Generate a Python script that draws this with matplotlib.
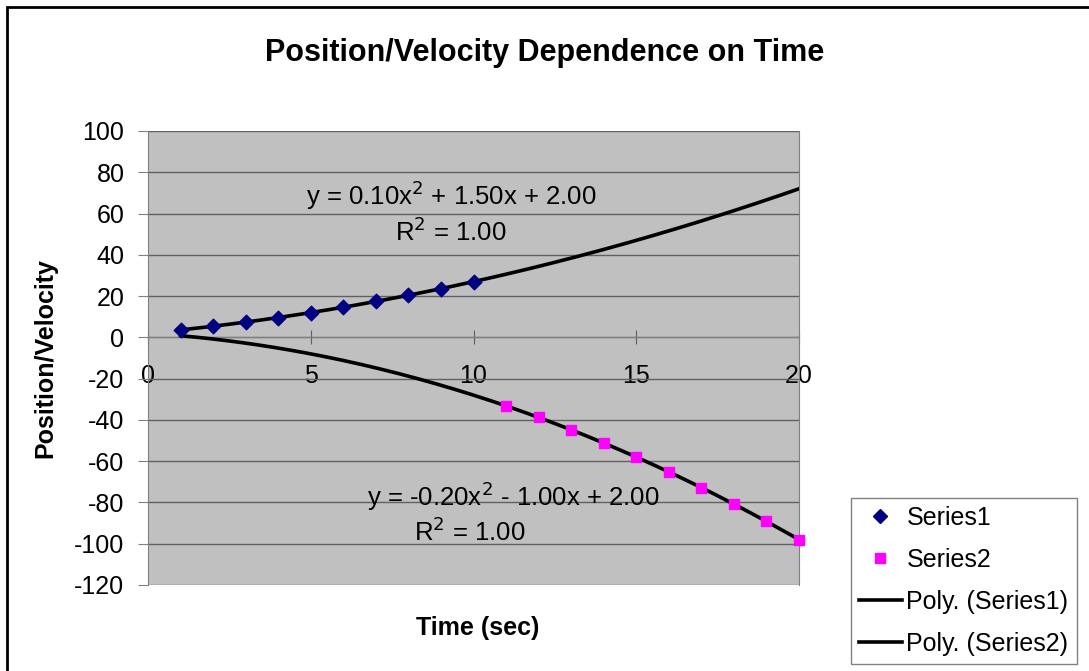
import numpy as np
import matplotlib.pyplot as plt
from matplotlib.patches import Rectangle
from matplotlib.lines import Line2D

# dane
czas1 = [1, 2, 3, 4, 5, 6, 7, 8, 9, 10]
seria1 = [3.6, 5.4, 7.4, 9.6, 12.0, 14.6, 17.4, 20.4, 23.6, 27.0]
czas2 = [11, 12, 13, 14, 15, 16, 17, 18, 19, 20]
seria2 = [-33.2, -38.8, -44.8, -51.2, -58.0, -65.2, -72.8, -80.8, -89.2, -98.0]
y_ticks = [-120, -100, -80, -60, -40, -20, 0, 20, 40, 60, 80, 100]
x_ticks = [0, 5, 10, 15, 20]

plt.rcParams['font.family'] = ['Liberation Sans', 'DejaVu Sans']
plt.rcParams['axes.unicode_minus'] = False

W, H = 1089, 671
fig = plt.figure(figsize=(W / 100, H / 100), dpi=100)


def px(x, y):
    # piksele od lewego gornego rogu -> ulamki figury
    return x / W, 1 - y / H


# ramka wokol calego wykresu
fig.patches.append(Rectangle(px(7, 700), 1.2, (700 - 7) / H, transform=fig.transFigure,
                             fill=False, edgecolor='black', linewidth=2))

# obszar wykresu
left, right, top, bottom = 148, 799, 131, 585
ax = fig.add_axes([left / W, 1 - bottom / H, (right - left) / W, (bottom - top) / H])
ax.set_facecolor('#C0C0C0')
ax.set_xlim(0, 20)
ax.set_ylim(-120, 100)

ax.spines['top'].set_visible(False)
ax.spines['right'].set_color('#808080')
ax.spines['left'].set_color('#808080')
ax.spines['bottom'].set_color('#808080')
ax.spines['bottom'].set_position(('data', 0))

ax.set_yticks(y_ticks)
ax.yaxis.grid(True, color='#606060', linewidth=1)
ax.set_axisbelow(True)
ax.tick_params(axis='y', direction='out', length=7, color='#808080', labelsize=18, pad=10)
ax.set_xticks(x_ticks)
ax.tick_params(axis='x', direction='inout', length=10, color='#606060', labelsize=18, pad=14)

# linie trendu (wielomian 2. stopnia)
xx = np.linspace(1, 20, 200)
p1 = np.polyfit(czas1, seria1, 2)
p2 = np.polyfit(czas2, seria2, 2)
ax.plot(xx, np.polyval(p1, xx), color='black', linewidth=2.6, zorder=3)
ax.plot(xx, np.polyval(p2, xx), color='black', linewidth=2.6, zorder=3)

ax.scatter(czas1, seria1, marker='D', s=55, color='#000080', zorder=4, clip_on=False)
ax.scatter(czas2, seria2, marker='s', s=60, color='#FF00FF', zorder=4, clip_on=False)


def r2(x, y, p):
    y = np.array(y)
    res = y - np.polyval(p, x)
    return 1 - np.sum(res ** 2) / np.sum((y - y.mean()) ** 2)


fig.text(*px(451, 195), f"y = {p1[0]:.2f}x$^2$ + {p1[1]:.2f}x + {p1[2]:.2f}",
         fontsize=18.5, ha='center', va='center')
fig.text(*px(451, 232), f"R$^2$ = {r2(czas1, seria1, p1):.2f}", fontsize=18.5,
         ha='center', va='center')
fig.text(*px(513, 496), f"y = {p2[0]:.2f}x$^2$ - {abs(p2[1]):.2f}x + {p2[2]:.2f}",
         fontsize=18.5, ha='center', va='center')
fig.text(*px(470, 532), f"R$^2$ = {r2(czas2, seria2, p2):.2f}", fontsize=18.5,
         ha='center', va='center')

fig.text(*px(545, 53), "Position/Velocity Dependence on Time", fontsize=22, fontweight='bold',
         ha='center', va='center')
fig.text(*px(478, 628), "Time (sec)", fontsize=18, fontweight='bold', ha='center', va='center')
fig.text(*px(45, 358), "Position/Velocity", fontsize=18, fontweight='bold', rotation=90,
         ha='center', va='center')

# legenda
uchwyty = [
    Line2D([], [], marker='D', linestyle='none', color='#000080', markersize=7),
    Line2D([], [], marker='s', linestyle='none', color='#FF00FF', markersize=7),
    Line2D([], [], color='black', linewidth=2.6),
    Line2D([], [], color='black', linewidth=2.6),
]
opisy = ['Series1', 'Series2', 'Poly. (Series1)', 'Poly. (Series2)']
leg = fig.legend(uchwyty, opisy, loc='upper left', bbox_to_anchor=px(851, 498),
                 fontsize=18, frameon=True, fancybox=False, edgecolor='#606060',
                 handlelength=1.7, handletextpad=0.2, borderpad=0.32, labelspacing=0.72,
                 borderaxespad=0)
leg.get_frame().set_linewidth(1)

fig.savefig('out.png', dpi=100)
